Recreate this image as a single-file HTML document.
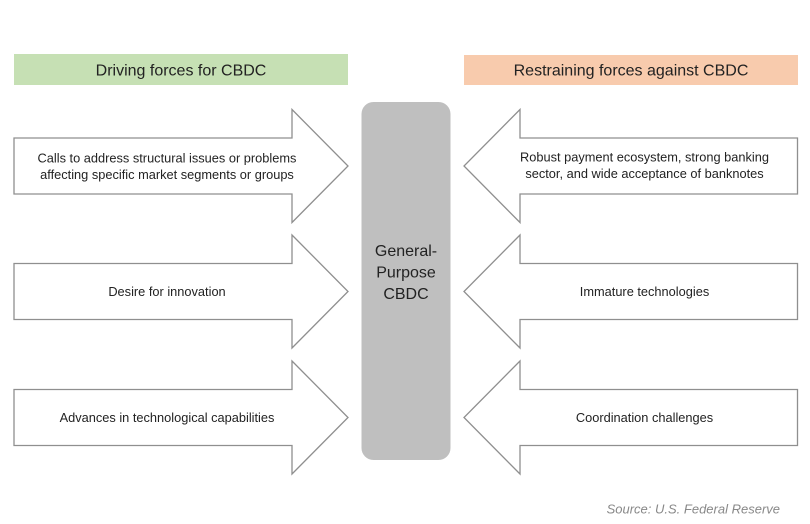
<!DOCTYPE html>
<html><head><meta charset="utf-8"><style>
html,body{margin:0;padding:0;background:#fff;}
body{width:810px;height:524px;overflow:hidden;position:relative;}
svg{position:absolute;left:0;top:0;}
</style></head><body>
<svg width="810" height="524" viewBox="0 0 810 524" xmlns="http://www.w3.org/2000/svg">
<rect x="14" y="54" width="334" height="31" fill="#c6e0b4"/>
<rect x="464" y="55" width="334" height="30" fill="#f8cbad"/>
<g font-family="Liberation Sans, Arial, sans-serif" fill="#222" text-anchor="middle">
<text x="181" y="75.5" font-size="16">Driving forces for CBDC</text>
<text x="631" y="75.5" font-size="16">Restraining forces against CBDC</text>
</g>
<rect x="361.5" y="102" width="89" height="358" rx="12" ry="12" fill="#bfbfbf"/>
<g font-family="Liberation Sans, Arial, sans-serif" fill="#222" font-size="16" text-anchor="middle">
<text x="406" y="256">General-</text>
<text x="406" y="277.5">Purpose</text>
<text x="406" y="299">CBDC</text>
</g>
<g fill="#fff" stroke="#8f8f8f" stroke-width="1.3" stroke-linejoin="miter">
<path d="M14,138 H292 V109.5 L348,166 L292,222.5 V194 H14 Z"/>
<path d="M14,263.5 H292 V235 L348,291.5 L292,348 V319.5 H14 Z"/>
<path d="M14,389.5 H292 V361 L348,417.5 L292,474 V445.5 H14 Z"/>
<path d="M797.5,138 H520 V109.5 L464,166 L520,222.5 V194 H797.5 Z"/>
<path d="M797.5,263.5 H520 V235 L464,291.5 L520,348 V319.5 H797.5 Z"/>
<path d="M797.5,389.5 H520 V361 L464,417.5 L520,474 V445.5 H797.5 Z"/>
</g>
<g font-family="Liberation Sans, Arial, sans-serif" fill="#222" font-size="12.8" text-anchor="middle">
<text x="167" y="162.5">Calls to address structural issues or problems</text>
<text x="167" y="179.2">affecting specific market segments or groups</text>
<text x="167" y="296">Desire for innovation</text>
<text x="167" y="421.8">Advances in technological capabilities</text>
<text x="644.5" y="161.5">Robust payment ecosystem, strong banking</text>
<text x="644.5" y="178.2">sector, and wide acceptance of banknotes</text>
<text x="644.5" y="296">Immature technologies</text>
<text x="644.5" y="421.8">Coordination challenges</text>
</g>
<text x="780" y="513.5" font-family="Liberation Sans, Arial, sans-serif" font-style="italic" font-size="13" fill="#888" text-anchor="end">Source: U.S. Federal Reserve</text>
</svg>
</body></html>
